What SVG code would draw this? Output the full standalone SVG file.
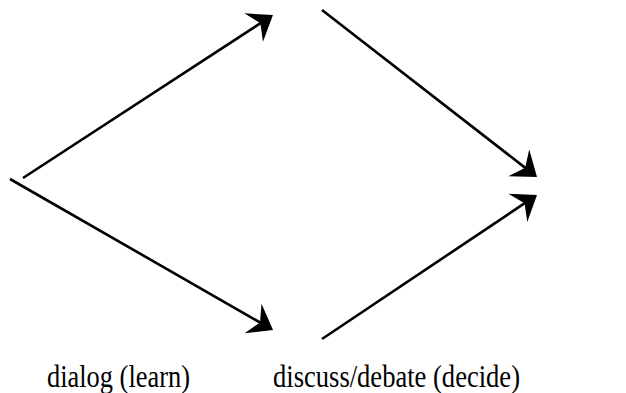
<svg xmlns="http://www.w3.org/2000/svg" width="626" height="393" viewBox="0 0 626 393">
<style>
.c{stroke:#000;stroke-width:2.6;fill:none;marker-end:url(#ah)}
.t{font-size:32px;fill:#000}
</style>
<defs>
<marker id="ah" markerUnits="userSpaceOnUse" viewBox="-12 -18 26 36" markerWidth="26" markerHeight="36" refX="0" refY="0" orient="auto" overflow="visible">
<path d="M12,0 L-11,-17 L-3,0 L-11,17 Z" fill="#000"/>
</marker>
</defs>
<rect width="626" height="393" fill="#fff"/>
<g id="connectors">
<line class="c" x1="23" y1="178" x2="262.9" y2="21.6"/>
<line class="c" x1="10" y1="179" x2="262.6" y2="324"/>
<line class="c" x1="322" y1="10" x2="527.5" y2="169.6"/>
<line class="c" x1="322" y1="339" x2="527" y2="201.7"/>
</g>
<g id="label-dialog"><text class="t" font-family="Liberation Serif, serif" x="47" y="387" textLength="143" lengthAdjust="spacingAndGlyphs">dialog (learn)</text></g>
<g id="label-discuss"><text class="t" font-family="Liberation Serif, serif" x="273" y="387" textLength="247" lengthAdjust="spacingAndGlyphs">discuss/debate (decide)</text></g>
</svg>
